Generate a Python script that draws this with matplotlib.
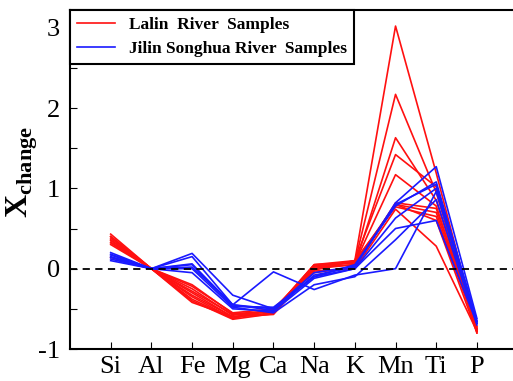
import matplotlib
matplotlib.use('Agg')
import matplotlib.pyplot as plt
import numpy as np

# element order on the x axis
elements = ['Si', 'Al', 'Fe', 'Mg', 'Ca', 'Na', 'K', 'Mn', 'Ti', 'P']

# Lalin River samples (red)
lalin = [
    [0.43, 0, -0.25, -0.58, -0.52, 0.05, 0.10, 3.02, 1.19, -0.75],
    [0.40, 0, -0.30, -0.60, -0.55, 0.03, 0.08, 2.17, 0.95, -0.78],
    [0.38, 0, -0.35, -0.62, -0.50, 0.00, 0.05, 1.63, 0.85, -0.76],
    [0.36, 0, -0.40, -0.63, -0.56, -0.02, 0.10, 1.42, 1.02, -0.80],
    [0.35, 0, -0.42, -0.60, -0.52, 0.04, 0.07, 1.17, 0.78, -0.77],
    [0.33, 0, -0.22, -0.55, -0.50, -0.05, 0.02, 0.82, 0.75, -0.72],
    [0.32, 0, -0.28, -0.57, -0.54, 0.02, 0.05, 0.80, 0.70, -0.74],
    [0.30, 0, -0.33, -0.60, -0.57, 0.00, 0.10, 0.77, 0.65, -0.75],
    [0.14, 0, -0.38, -0.62, -0.50, -0.03, 0.00, 0.74, 0.28, -0.78],
    [0.40, 0, -0.20, -0.56, -0.53, 0.05, 0.08, 0.80, 0.60, -0.80],
]

# Jilin Songhua River samples (blue)
jilin = [
    [0.18, 0, 0.19, -0.33, -0.50, -0.05, 0.03, 0.82, 1.27, -0.62],
    [0.15, 0, 0.15, -0.45, -0.52, -0.08, 0.02, 0.80, 1.05, -0.65],
    [0.12, 0, 0.06, -0.47, -0.48, -0.10, 0.00, 0.63, 1.00, -0.66],
    [0.20, 0, 0.05, -0.45, -0.04, -0.26, -0.08, 0.00, 0.96, -0.68],
    [0.10, 0, 0.00, -0.48, -0.55, -0.20, -0.10, 0.36, 0.86, -0.70],
    [0.17, 0, -0.05, -0.50, -0.53, -0.12, 0.00, 0.50, 0.60, -0.68],
    [0.14, 0, 0.02, -0.45, -0.50, -0.10, 0.05, 0.78, 1.08, -0.66],
]

plt.rcParams['font.family'] = 'Liberation Serif'
plt.rcParams['axes.unicode_minus'] = False
plt.rcParams['mathtext.fontset'] = 'custom'
plt.rcParams['mathtext.rm'] = 'Liberation Serif'
plt.rcParams['mathtext.bf'] = 'Liberation Serif:bold'

fig = plt.figure(figsize=(5.13, 3.81), dpi=100)
# axes runs past the right edge, like the cropped original
ax = fig.add_axes([70 / 513, 32 / 381, 470 / 513, 339 / 381])

x = np.arange(len(elements))
for i, row in enumerate(lalin):
    ax.plot(x, row, color='#ff1010', lw=1.2,
            label='Lalin  River  Samples' if i == 0 else None)
for i, row in enumerate(jilin):
    ax.plot(x, row, color='#1a1aff', lw=1.2,
            label='Jilin Songhua River  Samples' if i == 0 else None)

ax.axhline(0, color='black', ls='--', lw=1.3, dashes=(4, 3))

ax.set_xlim(-1, 10.55)
ax.set_ylim(-1, 3.22)
ax.set_xticks(x)
ax.set_xticklabels(elements, fontsize=19)
ax.set_yticks([-1, 0, 1, 2, 3])
ax.set_yticks([-0.5, 0.5, 1.5, 2.5], minor=True)
ax.tick_params(axis='y', labelsize=19, direction='in', length=5, width=0.8, pad=7)
ax.tick_params(axis='y', which='minor', direction='in', length=5, width=0.8)
ax.tick_params(axis='x', direction='in', length=5, width=0.8, pad=5)

for s in ax.spines.values():
    s.set_linewidth(1.5)
ax.spines['right'].set_visible(False)

# y label placed by hand so it stays inside the figure
fig.text(22 / 513, 1 - 172 / 381, r'$\mathbf{X}_{\mathbf{change}}$', fontsize=23,
         rotation=90, ha='center', va='center')

leg = ax.legend(loc='upper left', borderaxespad=0, fancybox=False,
                edgecolor='black', framealpha=1, handlelength=2.2,
                labelspacing=0.45,
                prop={'family': 'Liberation Serif', 'weight': 'bold', 'size': 12.5})
leg.get_frame().set_linewidth(1.5)

plt.savefig('out.png', dpi=100)
